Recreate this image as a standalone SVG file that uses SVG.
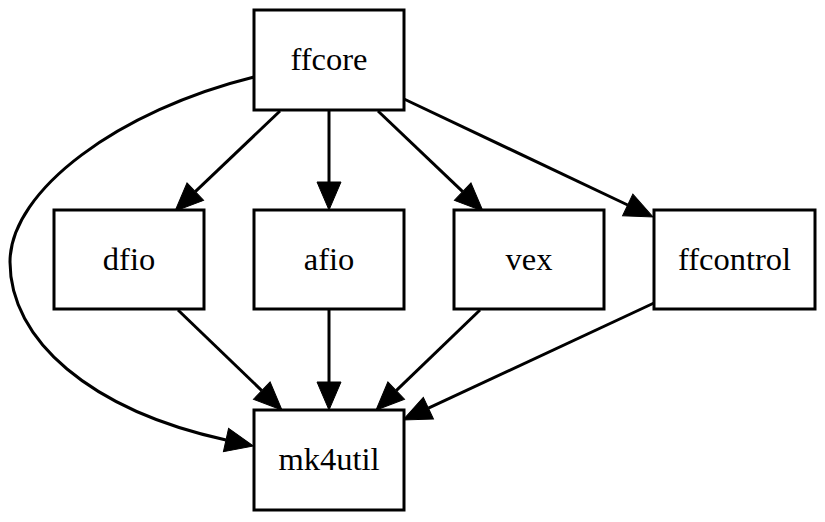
<svg xmlns="http://www.w3.org/2000/svg" width="825" height="522" viewBox="0 0 825 522">
<style>
.node rect{fill:#fff;stroke:#000;stroke-width:3}
.node text{font-family:"Liberation Serif","Times New Roman",serif;font-size:32.5px;text-anchor:middle;fill:#000}
.edge{fill:none;stroke:#000;stroke-width:3;marker-end:url(#arr)}
</style>
<defs>
<marker id="arr" markerUnits="userSpaceOnUse" markerWidth="30" markerHeight="26" refX="0" refY="12" orient="auto" overflow="visible">
<path d="M0,0 L28,12 L0,24 Z" fill="#000" stroke="#000" stroke-width="1"/>
</marker>
</defs>
<rect width="825" height="522" fill="#fff"/>
<g id="edges">
<path class="edge" d="M280,111 L195.3,191.7"/>
<path class="edge" d="M329,111 L329,182"/>
<path class="edge" d="M378,111 L462.7,191.7"/>
<path class="edge" d="M404,99 L627.7,205"/>
<path class="edge" d="M254,77 C120,110 10,190 10,262 C10,340 90,410 226,440"/>
<path class="edge" d="M178,310 L261.8,390.6"/>
<path class="edge" d="M329,310 L329,382"/>
<path class="edge" d="M480,310 L396.2,390.6"/>
<path class="edge" d="M654,303 L428.4,408.2"/>
</g>
<g id="ffcore" class="node"><rect x="254" y="10" width="150" height="100"/><text x="329" y="70">ffcore</text></g>
<g id="dfio" class="node"><rect x="54" y="210" width="150" height="99"/><text x="129" y="270">dfio</text></g>
<g id="afio" class="node"><rect x="254" y="210" width="150" height="99"/><text x="329" y="270">afio</text></g>
<g id="vex" class="node"><rect x="454" y="210" width="150" height="99"/><text x="529" y="270">vex</text></g>
<g id="ffcontrol" class="node"><rect x="654" y="210" width="161" height="99"/><text x="734.5" y="270">ffcontrol</text></g>
<g id="mk4util" class="node"><rect x="254" y="410" width="150" height="100"/><text x="329" y="470">mk4util</text></g>
</svg>
